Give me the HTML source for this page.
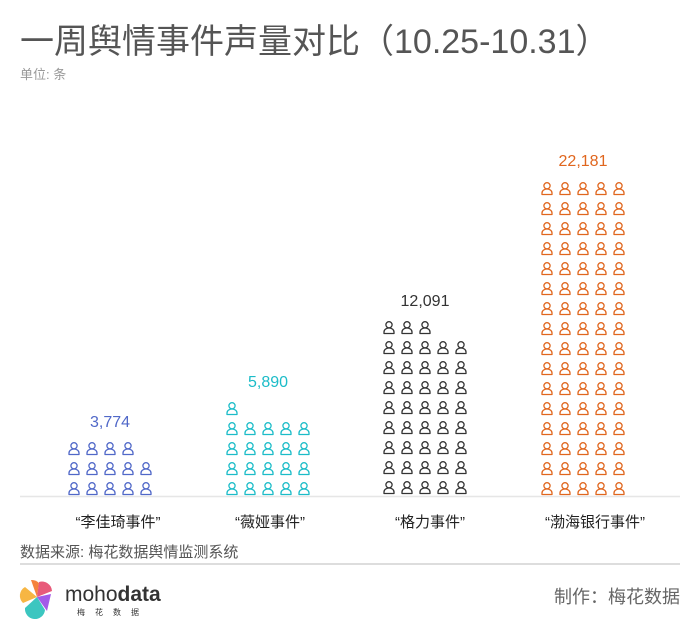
<!DOCTYPE html>
<html><head><meta charset="utf-8"><style>
body{margin:0;background:#fff;width:700px;height:628px;overflow:hidden;font-family:"Liberation Sans","Noto Sans CJK SC",sans-serif;}
svg text{font-family:"Liberation Sans","Noto Sans CJK SC",sans-serif;}
</style></head><body>
<svg width="700" height="628" viewBox="0 0 700 628" xmlns="http://www.w3.org/2000/svg">
<defs>
<g id="p"><circle cx="6" cy="3.8" r="3.1" fill="none" stroke="currentColor" stroke-width="1.3"/><path d="M1,12.5 v-1.5 a5,4 0 0 1 10,0 v1.5 z" fill="none" stroke="currentColor" stroke-width="1.3" stroke-linejoin="round"/></g>
<g id="r5"><use href="#p" x="0"/><use href="#p" x="18"/><use href="#p" x="36"/><use href="#p" x="54"/><use href="#p" x="72"/></g>
</defs>
<text x="20" y="53" font-size="34" fill="#555">一周舆情事件声量对比（10.25-10.31）</text>
<text x="20" y="79" font-size="13" fill="#999">单位: 条</text>
<line x1="20" y1="496.5" x2="680" y2="496.5" stroke="#e6e6e6" stroke-width="1.5"/>
<g color="#5068c8">
<g transform="translate(68,442)"><use href="#p" x="0"/><use href="#p" x="18"/><use href="#p" x="36"/><use href="#p" x="54"/></g>
<use href="#r5" x="68" y="462"/><use href="#r5" x="68" y="482"/>
</g>
<text x="110" y="427" font-size="16" fill="#5068c8" text-anchor="middle">3,774</text>
<g color="#1cbcc8">
<use href="#p" x="226" y="402"/>
<use href="#r5" x="226" y="422"/><use href="#r5" x="226" y="442"/><use href="#r5" x="226" y="462"/><use href="#r5" x="226" y="482"/>
</g>
<text x="268" y="387" font-size="16" fill="#1cbcc8" text-anchor="middle">5,890</text>
<g color="#333">
<g transform="translate(383,321)"><use href="#p" x="0"/><use href="#p" x="18"/><use href="#p" x="36"/></g>
<use href="#r5" x="383" y="341"/><use href="#r5" x="383" y="361"/><use href="#r5" x="383" y="381"/><use href="#r5" x="383" y="401"/><use href="#r5" x="383" y="421"/><use href="#r5" x="383" y="441"/><use href="#r5" x="383" y="461"/><use href="#r5" x="383" y="481"/>
</g>
<text x="425" y="306" font-size="16" fill="#333" text-anchor="middle">12,091</text>
<g color="#e0661e">
<use href="#r5" x="541" y="182"/><use href="#r5" x="541" y="202"/><use href="#r5" x="541" y="222"/><use href="#r5" x="541" y="242"/><use href="#r5" x="541" y="262"/><use href="#r5" x="541" y="282"/><use href="#r5" x="541" y="302"/><use href="#r5" x="541" y="322"/><use href="#r5" x="541" y="342"/><use href="#r5" x="541" y="362"/><use href="#r5" x="541" y="382"/><use href="#r5" x="541" y="402"/><use href="#r5" x="541" y="422"/><use href="#r5" x="541" y="442"/><use href="#r5" x="541" y="462"/><use href="#r5" x="541" y="482"/>
</g>
<text x="583" y="166" font-size="16" fill="#e0661e" text-anchor="middle">22,181</text>
<g font-size="15" fill="#222" text-anchor="middle">
<text x="118" y="527">“李佳琦事件”</text>
<text x="270" y="527">“薇娅事件”</text>
<text x="430" y="527">“格力事件”</text>
<text x="595" y="527">“渤海银行事件”</text>
</g>
<text x="20" y="557" font-size="15" fill="#555">数据来源: 梅花数据舆情监测系统</text>
<line x1="20" y1="564" x2="680" y2="564" stroke="#ddd" stroke-width="2"/>
<g transform="translate(37,597)">
<path d="M0,0 L-6,-17 A10,10 0 0 1 2,-14 Z" fill="#f5823c"/>
<path d="M0,0 L2,-15 A10,10 0 0 1 15,-6 Z" fill="#e85a7a"/>
<path d="M0,0 L14,-3 L10,14 Z" fill="#a35ae8"/>
<path d="M0,0 L8,13 A10,10 0 0 1 -12,11 Z" fill="#3cc6c0"/>
<path d="M0,0 L-14,6 A10,10 0 0 1 -12,-10 Z" fill="#f7b643"/>
</g>
<text x="65" y="601" font-size="21" fill="#333">moho<tspan font-weight="bold">data</tspan></text>
<text x="77" y="615" font-size="8" fill="#333" letter-spacing="10">梅花数据</text>
<text x="680" y="603" font-size="18" fill="#666" text-anchor="end">制作：梅花数据</text>
</svg>
</body></html>
